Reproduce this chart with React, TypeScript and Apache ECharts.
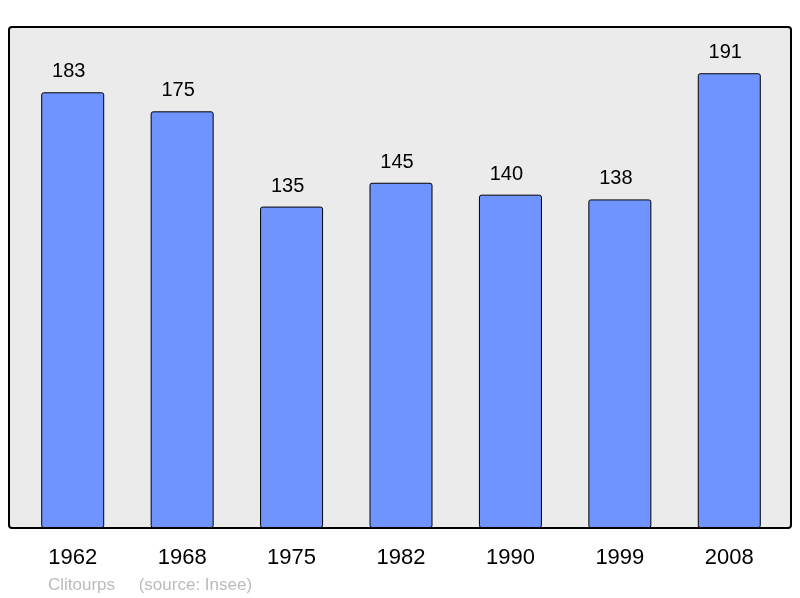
import React, { useEffect, useRef } from "react";
import * as echarts from "echarts";

const years = ["1962", "1968", "1975", "1982", "1990", "1999", "2008"];
const population = [183, 175, 135, 145, 140, 138, 191];
const footer = "Clitourps     (source: Insee)";

export default function App() {
  const ref = useRef<HTMLDivElement>(null);
  useEffect(() => {
    if (!ref.current) return;
    const chart = echarts.init(ref.current, null, { renderer: "svg" });
    chart.setOption({
      animation: false,
      textStyle: { fontFamily: "Liberation Sans, Arial, sans-serif" },
      grid: { left: 18, right: 16, top: 28, bottom: 70, containLabel: false },
      graphic: [
        {
          type: "rect",
          z: -10,
          shape: { x: 9, y: 27, width: 782, height: 501, r: 3 },
          style: { fill: "#ebebeb", stroke: "#000", lineWidth: 2 },
        },
        {
          type: "text",
          left: 48,
          top: 576,
          style: {
            text: footer,
            fill: "#bbbbbb",
            font: "17px 'Liberation Sans', Arial, sans-serif",
          },
        },
      ],
      xAxis: {
        type: "category",
        data: years,
        axisLine: { show: false },
        axisTick: { show: false },
        axisLabel: {
          color: "#000",
          fontSize: 22,
          margin: 17,
          fontFamily: "Liberation Sans, Arial, sans-serif",
        },
      },
      yAxis: {
        type: "value",
        min: 0,
        max: 210,
        show: false,
        splitLine: { show: false },
      },
      series: [
        {
          type: "bar",
          data: population,
          barWidth: 63,
          itemStyle: {
            color: "#7094ff",
            borderColor: "#000",
            borderWidth: 1,
            borderRadius: 2,
          },
          label: {
            show: true,
            position: "top",
            distance: 12,
            offset: [-4, 0],
            color: "#000",
            fontSize: 20,
            fontFamily: "Liberation Sans, Arial, sans-serif",
          },
        },
      ],
    });
    return () => chart.dispose();
  }, []);
  return (
    <div
      ref={ref}
      style={{ position: "fixed", left: 0, top: 0, width: 800, height: 598 }}
    />
  );
}
